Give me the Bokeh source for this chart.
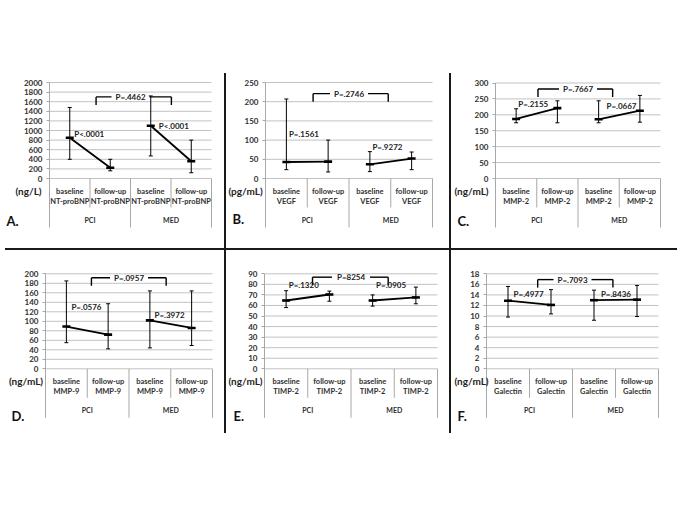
from bokeh.plotting import figure
from bokeh.models import Range1d, FixedTicker, LinearAxis, Div, Spacer
from bokeh.layouts import row, column
from bokeh.core.properties import value
from bokeh.embed import file_html
from bokeh.resources import INLINE

FONT = "Lato"

# ---------------- data ----------------
categories = ["baseline", "follow-up", "baseline", "follow-up"]
groups = ["PCI", "MED"]
letters = ["A.", "B.", "C.", "D.", "E.", "F."]
markers = ["NT-proBNP", "VEGF", "MMP-2", "MMP-9", "TIMP-2", "Galectin"]
units = ["(ng/L)", "(pg/mL)", "(ng/mL)", "(ng/mL)", "(ng/mL)", "(ng/mL)"]

ntprobnp_mean = [850, 225, 1100, 360]
ntprobnp_upper = [1480, 400, 1720, 800]
ntprobnp_lower = [400, 160, 470, 120]
ntprobnp_ticks = [0, 200, 400, 600, 800, 1000, 1200, 1400, 1600, 1800, 2000]
ntprobnp_p_within = ["P<.0001", "P<.0001"]
ntprobnp_p_between = "P=.4462"

vegf_mean = [43, 44, 37, 52]
vegf_upper = [207, 100, 70, 69]
vegf_lower = [23, 17, 18, 23]
vegf_ticks = [0, 50, 100, 150, 200, 250]
vegf_p_within = ["P=.1561", "P=.9272"]
vegf_p_between = "P=.2746"

mmp2_mean = [187, 221, 186, 213]
mmp2_upper = [219, 244, 244, 261]
mmp2_lower = [175, 175, 175, 177]
mmp2_ticks = [0, 50, 100, 150, 200, 250, 300]
mmp2_p_within = ["P=.2155", "P=.0667"]
mmp2_p_between = "P=.7667"

mmp9_mean = [89, 72, 102, 86]
mmp9_upper = [185, 137, 164, 164]
mmp9_lower = [55, 42, 44, 49]
mmp9_ticks = [0, 20, 40, 60, 80, 100, 120, 140, 160, 180, 200]
mmp9_p_within = ["P=.0576", "P=.3972"]
mmp9_p_between = "P=.0957"

timp2_mean = [64.7, 70.4, 64.7, 67.6]
timp2_upper = [74, 73.6, 70, 77.4]
timp2_lower = [58, 64, 59.4, 61.6]
timp2_ticks = [0, 10, 20, 30, 40, 50, 60, 70, 80, 90]
timp2_p_within = ["P=.1320", "P=.0905"]
timp2_p_between = "P=8254"

galectin_mean = [12.9, 12.1, 13.0, 13.1]
galectin_upper = [15.6, 15.0, 14.9, 15.8]
galectin_lower = [9.8, 10.4, 9.2, 9.9]
galectin_ticks = [0, 2, 4, 6, 8, 10, 12, 14, 16, 18]
galectin_p_within = ["P=.4977", "P=.8436"]
galectin_p_between = "P=.7093"

# ---------------- layout / annotation positions (pixels inside each panel) ----------------
LAYOUT = [
    dict(W=224, H=175, left=49, right=211, top=9, zero=105, ux=28, lx=6, ldy=42,
         bracket=(1.15, 3.01, 1700), pw=[(0.61, 937), (2.70, 1097)]),
    dict(W=223, H=175, left=39, right=206, top=9, zero=105, ux=19, lx=6, ldy=40,
         bracket=(1.14, 2.94, 221), pw=[(0.56, 117), (2.56, 82)]),
    dict(W=226, H=175, left=44, right=209, top=9.5, zero=105, ux=20, lx=6, ldy=42,
         bracket=(1.03, 2.84, 281), pw=[(0.55, 234), (2.69, 229)]),
    dict(W=224, H=185, left=45, right=212, top=23.3, zero=118.3, ux=25.5, lx=11, ldy=47,
         bracket=(1.10, 2.89, 191.6), pw=[(0.62, 130), (2.61, 114)]),
    dict(W=223, H=185, left=38, right=211, top=23.3, zero=118.3, ux=19, lx=7, ldy=47,
         bracket=(1.11, 2.86, 86.8), pw=[(0.56, 79), (2.58, 79)]),
    dict(W=226, H=185, left=35, right=207, top=23.3, zero=118.3, ux=20, lx=6, ldy=47,
         bracket=(1.19, 2.94, 16.9), pw=[(0.63, 14.1), (2.66, 14.1)]),
]

GRID = "#c2c2c2"
TABLE = "#a8a8a8"
TXT = "#222222"
LBL = "#303030"


def panel(mean, upper, lower, ticks, p_within, p_between, marker, unit, letter, L):
    W, H = L["W"], L["H"]
    left, right = L["left"], L["right"]
    top, zero = L["top"], L["zero"]
    ymax = ticks[-1]
    k = ymax / (zero - top)      # data units per pixel (y)
    xpx = 4.0 / (right - left)   # data units per pixel (x)

    def vy(pix):
        return (zero - pix) * k

    def vx(pix):
        return (pix - left) * xpx

    p = figure(width=W, height=H, output_backend="svg", toolbar_location=None,
               x_range=Range1d(vx(0), vx(W)), y_range=Range1d(vy(H), vy(0)),
               x_axis_type=None, y_axis_type=None,
               min_border_left=0, min_border_right=0, min_border_top=0, min_border_bottom=0)
    p.extra_y_ranges = {"px": Range1d(H, 0)}
    p.outline_line_color = None
    p.background_fill_color = "white"
    p.border_fill_color = "white"
    p.xgrid.visible = False
    p.ygrid.visible = False

    xs = [i + 0.5 for i in range(len(categories))]
    n = len(categories)

    # horizontal grid lines at the tick values, across the plot area only
    p.segment(x0=[0] * len(ticks), x1=[n] * len(ticks), y0=ticks, y1=ticks,
              line_color=GRID, line_width=1)

    # value axis
    ax = LinearAxis(ticker=FixedTicker(ticks=ticks), fixed_location=0)
    ax.axis_line_color = None
    ax.major_tick_line_color = TABLE
    ax.major_tick_in = 0
    ax.major_tick_out = 3
    ax.minor_tick_line_color = None
    ax.major_label_standoff = 4
    ax.major_label_text_font = FONT
    ax.major_label_text_font_style = "bold"
    ax.major_label_text_font_size = "8px"
    ax.major_label_text_color = LBL
    p.add_layout(ax, "left")

    # category table lines
    p.segment(x0=[0, 1, 2, 3, 4], x1=[0, 1, 2, 3, 4],
              y0=[top, zero, zero, zero, zero],
              y1=[zero + 49, zero + 29, zero + 49, zero + 29, zero + 49],
              y_range_name="px", line_color=TABLE, line_width=1)

    tstyle = dict(text_font=value(FONT), text_font_style="bold",
                  text_align="center", text_baseline="middle", y_range_name="px")
    p.text(x=xs, y=[zero + 12.5] * n, text=categories, text_font_size="7.5px",
           text_color=LBL, **tstyle)
    p.text(x=xs, y=[zero + 22.5] * n, text=[marker] * n, text_font_size="7.5px",
           text_color=LBL, **tstyle)
    p.text(x=[1, 3], y=[zero + 41] * 2, text=groups, text_font_size="7px",
           text_color=LBL, **tstyle)

    # unit and panel letter
    p.text(x=[vx(L["ux"])], y=[zero + 12], text=[unit], text_font_size="10px",
           text_color=TXT, **tstyle)
    p.text(x=[vx(L["lx"])], y=[zero + L["ldy"]], text=[letter], text_font=value(FONT),
           text_font_style="bold", text_font_size="13px", text_color="#111111",
           text_align="left", text_baseline="middle", y_range_name="px")

    # error bars
    p.segment(x0=xs, x1=xs, y0=lower, y1=upper, line_color="black", line_width=1)
    p.scatter(x=xs + xs, y=upper + lower, marker="dash", size=4,
              line_color="black", line_width=1)
    # mean lines (baseline -> follow-up within each group)
    p.line(x=xs[0:2], y=mean[0:2], line_color="black", line_width=1.8)
    p.line(x=xs[2:4], y=mean[2:4], line_color="black", line_width=1.8)
    p.scatter(x=xs, y=mean, marker="dash", size=8, line_color="black", line_width=2.6)

    # between-group bracket
    bx0, bx1, by = L["bracket"]
    gap = 19 * xpx
    tick = 8 * k
    p.segment(x0=[bx0, 2 + gap, bx0, bx1], x1=[2 - gap, bx1, bx0, bx1],
              y0=[by, by, by, by], y1=[by, by, by - tick, by - tick],
              line_color="black", line_width=1.4)
    p.text(x=[2], y=[by], text=[p_between], text_font=value(FONT),
           text_font_style="bold", text_font_size="8px", text_color=TXT,
           text_align="center", text_baseline="middle")

    # within-group p values
    p.text(x=[q[0] for q in L["pw"]], y=[q[1] for q in L["pw"]], text=p_within,
           text_font=value(FONT), text_font_style="bold", text_font_size="8px",
           text_color=TXT, text_align="left", text_baseline="middle")
    return p


series = [
    (ntprobnp_mean, ntprobnp_upper, ntprobnp_lower, ntprobnp_ticks, ntprobnp_p_within, ntprobnp_p_between),
    (vegf_mean, vegf_upper, vegf_lower, vegf_ticks, vegf_p_within, vegf_p_between),
    (mmp2_mean, mmp2_upper, mmp2_lower, mmp2_ticks, mmp2_p_within, mmp2_p_between),
    (mmp9_mean, mmp9_upper, mmp9_lower, mmp9_ticks, mmp9_p_within, mmp9_p_between),
    (timp2_mean, timp2_upper, timp2_lower, timp2_ticks, timp2_p_within, timp2_p_between),
    (galectin_mean, galectin_upper, galectin_lower, galectin_ticks, galectin_p_within, galectin_p_between),
]

panels = []
for i, s in enumerate(series):
    panels.append(panel(*s, markers[i], units[i], letters[i], LAYOUT[i]))

SEP = "#1a1a1a"


def vline(h):
    return Div(text="", width=2, height=h, margin=0,
               styles={"background-color": SEP})


top_row = row(panels[0], vline(175), panels[1], vline(175), panels[2])
hline = row(Spacer(width=5, height=2, margin=0),
            Div(text="", width=672, height=2, margin=0, styles={"background-color": SEP}))
bottom_row = row(panels[3], vline(183), panels[4], vline(183), panels[5])
layout = column(Spacer(width=677, height=73, margin=0), top_row, hline, bottom_row)

open("out.html", "w").write(file_html(layout, INLINE))
